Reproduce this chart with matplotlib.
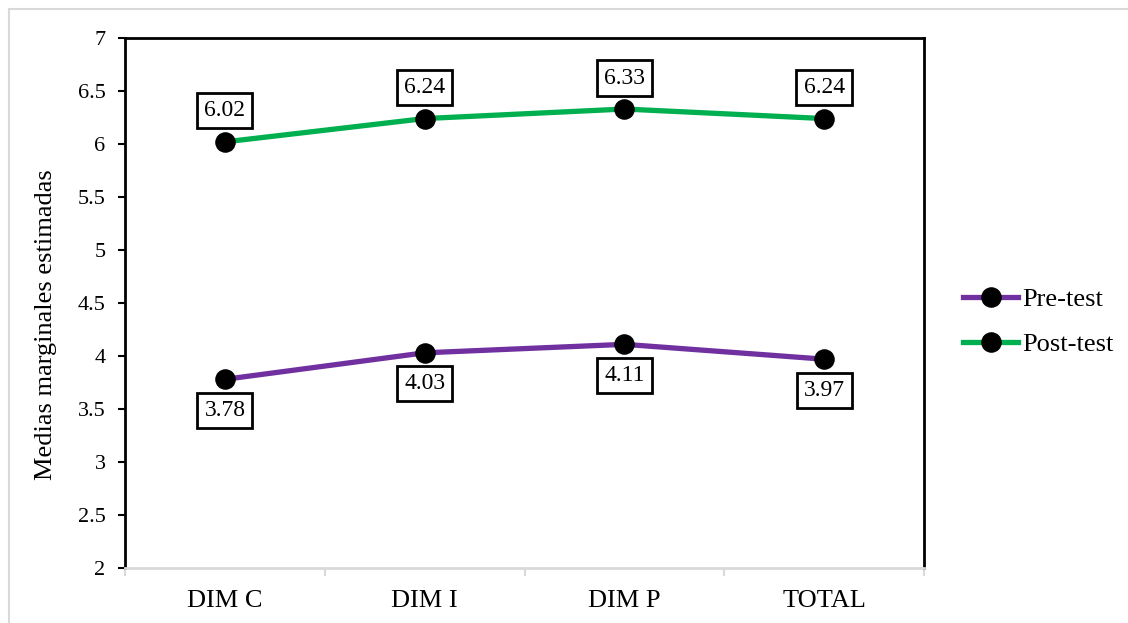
import matplotlib
matplotlib.use("Agg")
import matplotlib.pyplot as plt
from matplotlib.patches import Rectangle

plt.rcParams['font.family'] = ['Liberation Serif', 'DejaVu Serif']

categories = ["DIM C", "DIM I", "DIM P", "TOTAL"]
pre_test = [3.78, 4.03, 4.11, 3.97]
post_test = [6.02, 6.24, 6.33, 6.24]

purple = "#7030A0"
green = "#00B050"
grey = "#D9D9D9"

fig = plt.figure(figsize=(11.28, 6.23), dpi=100)
ax = fig.add_axes([125 / 1128, 55 / 623, 799 / 1128, 530 / 623])

# light outer frame around the whole chart
fig.patches.append(Rectangle((9 / 1128, -0.1), 1.5, 1.1 - 9 / 623,
                             transform=fig.transFigure, fill=False,
                             edgecolor=grey, lw=1.5, zorder=0))

x = list(range(len(categories)))
ax.plot(x, pre_test, color=purple, lw=3.8, marker="o", ms=13.8,
        mfc="black", mec="black", label="Pre-test", zorder=3)
ax.plot(x, post_test, color=green, lw=3.8, marker="o", ms=13.8,
        mfc="black", mec="black", label="Post-test", zorder=3)

box = dict(boxstyle="square,pad=0.3", fc="white", ec="black", lw=2)
for i, v in enumerate(pre_test):
    ax.annotate(f"{v:.2f}", (i, v), xytext=(0, -31), textcoords="offset pixels",
                ha="center", va="center", fontsize=17, bbox=box)
for i, v in enumerate(post_test):
    ax.annotate(f"{v:.2f}", (i, v), xytext=(0, 31), textcoords="offset pixels",
                ha="center", va="center", fontsize=17, bbox=box)

ax.set_xlim(-0.5, 3.5)
ax.set_ylim(2, 7)
ax.set_yticks([2, 2.5, 3, 3.5, 4, 4.5, 5, 5.5, 6, 6.5, 7])
ax.set_yticklabels(["2", "2.5", "3", "3.5", "4", "4.5", "5", "5.5", "6", "6.5", "7"])
ax.tick_params(axis="y", length=5, width=1.5, labelsize=16, pad=9)

ax.set_xticks(x)
ax.set_xticklabels(categories)
ax.tick_params(axis="x", length=0, labelsize=19, pad=16)
ax.set_xticks([-0.5, 0.5, 1.5, 2.5, 3.5], minor=True)
ax.tick_params(axis="x", which="minor", length=6, width=1.5, color=grey)

for side in ["left", "top", "right"]:
    ax.spines[side].set_linewidth(2)
    ax.spines[side].set_color("black")
ax.spines["bottom"].set_color(grey)
ax.spines["bottom"].set_linewidth(2)

ax.set_ylabel("Medias marginales estimadas", fontsize=19)
ax.yaxis.set_label_coords(-0.085, 0.46)

ax.legend(loc="center left", bbox_to_anchor=(963 / 1128, 301 / 623),
          bbox_transform=fig.transFigure, frameon=False, fontsize=19,
          borderpad=0, borderaxespad=0, handlelength=2.1, handletextpad=0.15,
          labelspacing=0.8)

fig.savefig("out.png", dpi=100)
